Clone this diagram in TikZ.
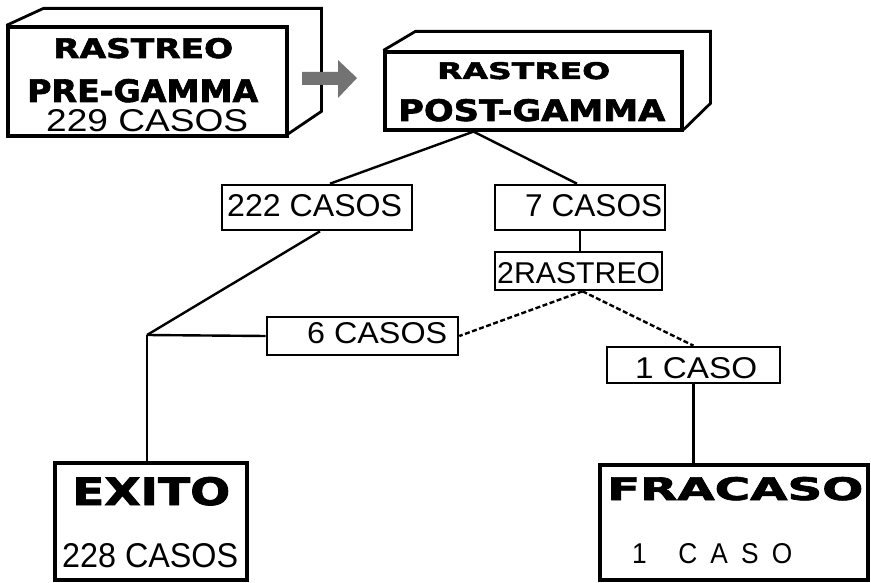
\documentclass[tikz,border=0pt]{standalone}
\usepackage{graphicx}
\usepackage{fontspec}
\setmainfont{Liberation Sans}
\newfontfamily\tfont{DejaVu Sans}[BoldFeatures={FakeBold=2}]
\newfontfamily\cfont{Liberation Sans}
\newcommand{\fitt}[3]{\resizebox{#1pt}{#2pt}{#3}}
\tikzset{
  box/.style={draw, line width=3.2pt, inner sep=0pt},
  sbox/.style={draw, line width=2.6pt, inner sep=0pt},
  lbl/.style={inner sep=0pt, anchor=base west},
  conn/.style={line width=2.4pt},
  dconn/.style={line width=2.4pt, dash pattern=on 5pt off 2.5pt},
  back/.style={line width=2.8pt, line join=miter}
}
\begin{document}
\begin{tikzpicture}[x=1pt, y=-1pt]
\useasboundingbox (0,0) rectangle (871,583);

% PRE-GAMMA 3D box
\node[box, minimum width=279pt, minimum height=109pt] (pre) at (147.5,81.5) {};
\draw[back] (pre.north west) -- ++(37,-17) -- ++(278,0) -- ++(0,103) -- ([yshift=4pt]pre.south east);
\node[lbl] (preA) at (53,58) {\fitt{180}{20}{\tfont\bfseries RASTREO}};
\node[lbl] (preB) at (27,102) {\fitt{231}{23}{\tfont\bfseries PRE-GAMMA}};
\node[lbl] (preC) at (46,132) {\fitt{202}{22}{\cfont 229 CASOS}};

% dithered arrow
\fill[black!55] (302,72) -- (338,72) -- (338,60) -- (357,78) -- (338,98) -- (338,85) -- (302,85) -- cycle;

% POST-GAMMA 3D box
\node[box, minimum width=297pt, minimum height=78pt] (post) at (533.5,91) {};
\draw[back] (post.north west) -- ++(32,-19) -- ++(295,0) -- ++(0,72) -- ([yshift=2pt]post.south east);
\node[lbl] (postA) at (437,79) {\fitt{173}{17}{\tfont\bfseries RASTREO}};
\node[lbl] (postB) at (398,121) {\fitt{267}{22}{\tfont\bfseries POST-GAMMA}};

% small boxes
\node[sbox, minimum width=190pt, minimum height=45pt] (c222) at (317,207.5) {};
\node[lbl] (t222) at (227,217) {\fitt{175}{22}{\cfont 222 CASOS}};
\node[sbox, minimum width=170pt, minimum height=45pt] (c7) at (580,207.5) {};
\node[lbl] (t7) at (525,217) {\fitt{137}{22}{\cfont 7 CASOS}};
\node[sbox, minimum width=167pt, minimum height=38pt] (r2) at (578.5,271) {};
\node[lbl] (tr2) at (497,283) {\fitt{163}{21}{\cfont 2RASTREO}};
\node[sbox, minimum width=191pt, minimum height=38pt] (c6) at (362.5,336) {};
\node[lbl] (t6) at (307,343) {\fitt{140}{21}{\cfont 6 CASOS}};
\node[sbox, minimum width=173pt, minimum height=36pt] (c1) at (693.5,365) {};
\node[lbl] (t1) at (635,378) {\fitt{122}{21}{\cfont 1 CASO}};

% result boxes
\node[box, minimum width=192pt, minimum height=117pt] (exito) at (151,521.5) {};
\node[lbl] (tex) at (72,505) {\fitt{158}{28}{\tfont\bfseries EXITO}};
\node[lbl] (tex2) at (62,567) {\fitt{176}{24}{\cfont 228 CASOS}};
\node[box, minimum width=268pt, minimum height=115pt] (fracaso) at (734,522.5) {};
\node[lbl] (tfr) at (607,500) {\fitt{256}{23}{\tfont\bfseries FRACASO}};
\node[lbl] (tfr2) at (632,563) {\fitt{160}{20}{\cfont 1\hspace{1.2em}C\hspace{0.5em}A\hspace{0.5em}S\hspace{0.5em}O}};

% connectors
\coordinate (pb) at ([xshift=-60pt]post.south);
\coordinate (J) at (147,335);
\draw[conn] (pb) -- ([xshift=13pt]c222.north);
\draw[conn] (pb) -- ([xshift=-3pt]c7.north);
\draw[conn] (c7.south) -- (c7.south |- r2.north);
\draw[dconn] ([xshift=4pt]r2.south) -- (c6.east);
\draw[dconn] ([xshift=4pt]r2.south) -- (c1.north);
\draw[conn] (c1.south) -- (c1.south |- fracaso.north);
\draw[conn] ([xshift=3pt]c222.south) -- (J);
\draw[conn] (J) -- (c6.west);
\draw[conn] (J) -- (J |- exito.north);
\end{tikzpicture}
\end{document}
